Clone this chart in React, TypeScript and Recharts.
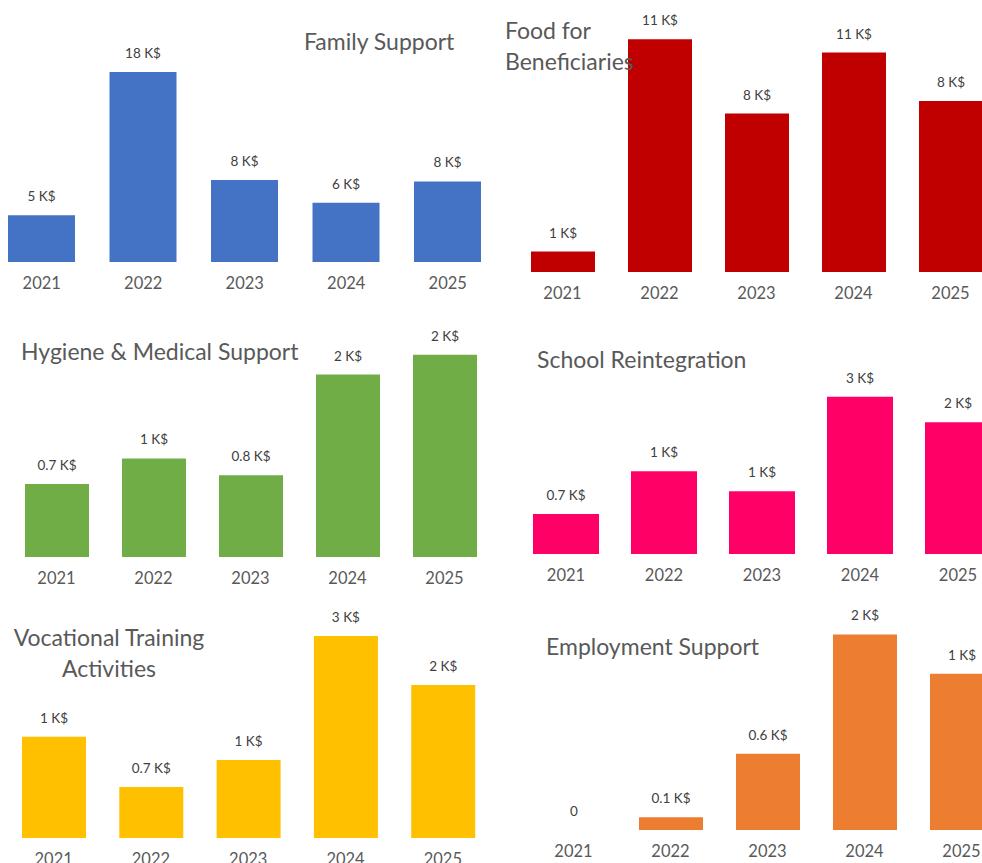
import React from 'react';
import { BarChart, Bar, XAxis, YAxis, LabelList } from 'recharts';

const YEARS = ['2021', '2022', '2023', '2024', '2025'];

// values in thousands of $
const familySupport = [4.52, 18.4, 7.94, 5.74, 7.8];
const foodForBeneficiaries = [1.0, 11.4, 7.76, 10.75, 8.38];
const hygieneMedical = [0.74, 1.0, 0.83, 1.85, 2.05];
const schoolReintegration = [0.72, 1.49, 1.13, 2.83, 2.37];
const vocationalTraining = [1.39, 0.7, 1.07, 2.77, 2.1];
const employmentSupport = [0, 0.1, 0.6, 1.54, 1.23];

const FONT = 'Lato, "Open Sans", sans-serif';

const fmtK = (v: number) => {
  if (!v) return '0';
  if (v < 1) return `${v.toFixed(1)} K$`;
  return `${Math.round(v)} K$`;
};

interface PanelDef {
  values: number[];
  color: string;
  left: number;
  step: number;
  baseline: number;
  plotH: number;
  pxPerK: number;
  barSize: number;
}

const PANELS: PanelDef[] = [
  { values: familySupport, color: '#4472C4', left: -8.75, step: 101.5, baseline: 262.3, plotH: 250, pxPerK: 10.33, barSize: 67 },
  { values: foodForBeneficiaries, color: '#C00000', left: 514, step: 97, baseline: 271.7, plotH: 271, pxPerK: 20.41, barSize: 64 },
  { values: hygieneMedical, color: '#70AD47', left: 7.5, step: 97, baseline: 557, plotH: 230, pxPerK: 98.6, barSize: 64 },
  { values: schoolReintegration, color: '#FF0066', left: 517, step: 98, baseline: 554.3, plotH: 200, pxPerK: 55.6, barSize: 66 },
  { values: vocationalTraining, color: '#FFC000', left: 4.7, step: 97.3, baseline: 838.3, plotH: 245, pxPerK: 72.9, barSize: 64 },
  { values: employmentSupport, color: '#ED7D31', left: 524.5, step: 97, baseline: 830, plotH: 235, pxPerK: 127, barSize: 64 },
];

interface TitleDef {
  lines: string[];
  x: number; // left or center depending on align
  cy: number;
  align: 'left' | 'center';
}

const TITLES: TitleDef[] = [
  { lines: ['Family Support'], x: 304, cy: 41, align: 'left' },
  { lines: ['Food for', 'Beneficiaries'], x: 505, cy: 46, align: 'left' },
  { lines: ['Hygiene & Medical Support'], x: 21, cy: 351, align: 'left' },
  { lines: ['School Reintegration'], x: 537, cy: 359, align: 'left' },
  { lines: ['Vocational Training', 'Activities'], x: 109, cy: 653, align: 'center' },
  { lines: ['Employment Support'], x: 546, cy: 646, align: 'left' },
];

const TITLE_LH = 31;

const Panel: React.FC<{ p: PanelDef }> = ({ p }) => {
  const data = YEARS.map((year, i) => ({ year, value: p.values[i] }));
  const axisH = 40;
  return (
    <div style={{ position: 'absolute', left: p.left, top: p.baseline - p.plotH }}>
      <BarChart
        width={p.step * 5}
        height={p.plotH + axisH}
        data={data}
        margin={{ top: 0, right: 0, bottom: 0, left: 0 }}
      >
        <XAxis
          dataKey="year"
          interval={0}
          height={axisH}
          tickLine={false}
          axisLine={false}
          tickSize={0}
          tickMargin={15}
          tick={{ fill: '#595959', fontSize: 16.5, fontFamily: FONT }}
        />
        <YAxis hide domain={[0, p.plotH / p.pxPerK]} allowDataOverflow />
        <Bar
          dataKey="value"
          fill={p.color}
          barSize={p.barSize}
          minPointSize={(v: number) => (v === 0 ? 0.01 : 0)}
          isAnimationActive={false}
        >
          <LabelList
            dataKey="value"
            position="top"
            offset={14}
            formatter={(v: any) => fmtK(Number(v))}
            style={{ fill: '#404040', fontSize: 13.5, fontFamily: FONT }}
          />
        </Bar>
      </BarChart>
    </div>
  );
};

const App: React.FC = () => {
  return (
    <div
      style={{
        position: 'absolute',
        left: 0,
        top: 0,
        width: 982,
        height: 863,
        overflow: 'hidden',
        background: '#ffffff',
        fontFamily: FONT,
      }}
    >
      {PANELS.map((p, i) => (
        <Panel key={i} p={p} />
      ))}
      {TITLES.map((t, i) => (
        <div
          key={`t-${i}`}
          style={{
            position: 'absolute',
            top: t.cy - (t.lines.length * TITLE_LH) / 2,
            left: t.align === 'left' ? t.x : t.x - 150,
            width: t.align === 'left' ? 'auto' : 300,
            textAlign: t.align,
            whiteSpace: 'nowrap',
            fontSize: 23,
            lineHeight: `${TITLE_LH}px`,
            color: '#595959',
          }}
        >
          {t.lines.map((l, j) => (
            <div key={j}>{l}</div>
          ))}
        </div>
      ))}
    </div>
  );
};

export default App;
